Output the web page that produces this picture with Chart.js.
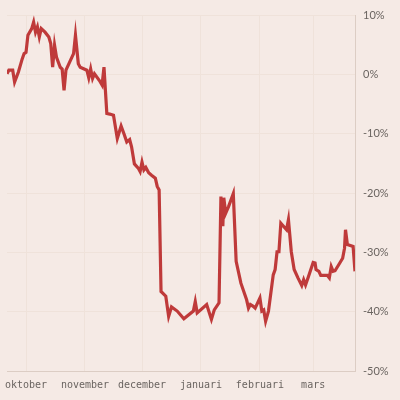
<!DOCTYPE html>
<html>
<head>
<meta charset="utf-8">
<script src="https://cdn.jsdelivr.net/npm/chart.js@4/dist/chart.umd.min.js"></script>
<style>
  html, body { margin: 0; padding: 0; background: #f5eae5; }
  #wrap { width: 400px; height: 400px; }
</style>
</head>
<body>
<div id="wrap"><canvas id="chart" width="400" height="400"></canvas></div>
<script>
// days counted from 1 oktober
const days = [-10, -9, -7, -6, -4, -2, -1, 0, 1, 3, 4, 5, 6, 7, 8, 10, 12, 13, 14, 15, 16, 18, 19, 20, 21, 23, 25, 26, 27.5, 28.5,
  32, 33, 34, 35, 36, 38.5, 40, 41, 42.5, 44, 46, 48, 50, 51.5, 53, 54.5, 55.5, 57, 59, 60, 61, 62, 63, 64.5, 66, 68, 69, 70,
  71, 73.5, 75, 76.5, 79.5, 83, 88, 89, 90, 95, 97.5, 99, 101.5, 102.5, 103.5, 104, 105, 106.5, 109, 110.5, 113, 116, 117, 118,
  119.5, 120.5, 123, 124, 125, 126, 127.5, 130, 131, 132, 133, 134, 137, 138, 139.5, 141, 143, 145, 146, 147, 148.5, 151, 152,
  152.5, 154, 155, 158.5, 159.5, 160.5, 161.5, 162.5, 165, 166.5, 167.5, 168, 169, 172, 173];
const values = [0.1, 0.7, 0.7, -1.3, 0.4, 2.6, 3.5, 3.7, 6.6, 7.7, 8.8, 7.1, 8.0, 6.3, 7.7, 7.1, 6.3, 5.2, 1.2, 4.9, 2.9, 1.2, 0.9, -2.7, 0.7, 2.1, 3.5, 6.6, 1.8, 1.2,
  0.7, -0.6, 0.9, -0.7, 0.1, -1.0, -1.8, 1.2, -6.6, -6.7, -6.9, -10.8, -8.7, -10.0, -11.4, -11.0, -12.2, -15.1, -15.8, -16.4, -14.8, -16.1, -15.7, -16.6, -17.0, -17.5, -18.9, -19.5,
  -36.6, -37.4, -40.8, -39.2, -39.9, -41.2, -39.9, -38.3, -40.2, -38.8, -41.3, -39.7, -38.5, -20.6, -25.6, -20.8, -23.4, -22.3, -20.1, -31.5, -35.2, -38.0, -39.4, -38.8,
  -39.1, -39.4, -37.7, -39.9, -39.7, -41.6, -39.9, -33.8, -32.9, -29.9, -29.9, -25.1, -26.2, -24.5, -29.9, -32.9, -34.3, -35.6, -34.6, -35.5, -34.1, -31.7, -31.8,
  -32.9, -33.2, -33.9, -33.9, -34.3, -32.4, -33.2, -33.1, -31.8, -31.0, -29.3, -26.2, -28.7, -29.0, -33.2];

const monthDays = [0, 31, 61, 92, 123, 151];
const monthNames = ['oktober', 'november', 'december', 'januari', 'februari', 'mars'];
const yTicks = [10, 0, -10, -20, -30, -40, -50];

const points = days.map((d, i) => ({x: d, y: values[i]}));

new Chart(document.getElementById('chart'), {
  type: 'line',
  data: {
    datasets: [{
      data: points,
      borderColor: '#bf3a3a',
      borderWidth: 3.2,
      pointRadius: 0,
      tension: 0,
      borderJoinStyle: 'miter'
    }]
  },
  options: {
    responsive: false,
    animation: false,
    plugins: { legend: { display: false }, tooltip: { enabled: false } },
    layout: { padding: { left: 7, top: 15, right: 0, bottom: 0 } },
    scales: {
      x: {
        type: 'linear',
        min: -10,
        max: 173,
        afterBuildTicks: (scale) => { scale.ticks = monthDays.map(v => ({value: v})); },
        afterFit: (scale) => { scale.height = 29; scale.paddingLeft = 0; scale.paddingRight = 0; },
        ticks: {
          autoSkip: false,
          maxRotation: 0,
          padding: 8,
          color: '#6a6460',
          font: { family: '"DejaVu Sans Mono", monospace', size: 10 },
          callback: (v) => monthNames[monthDays.indexOf(v)]
        },
        grid: { color: '#efe2da', drawTicks: false },
        border: { display: true, color: '#dccdc4' }
      },
      y: {
        position: 'right',
        min: -50,
        max: 10,
        afterBuildTicks: (scale) => { scale.ticks = yTicks.map(v => ({value: v})); },
        afterFit: (scale) => { scale.width = 45; },
        ticks: {
          padding: 8,
          color: '#6a6460',
          font: { family: 'Lato, sans-serif', size: 11 },
          callback: (v) => v + '%'
        },
        grid: { color: '#efe2da', drawTicks: false },
        border: { display: true, color: '#dccdc4' }
      }
    }
  }
});
</script>
</body>
</html>
